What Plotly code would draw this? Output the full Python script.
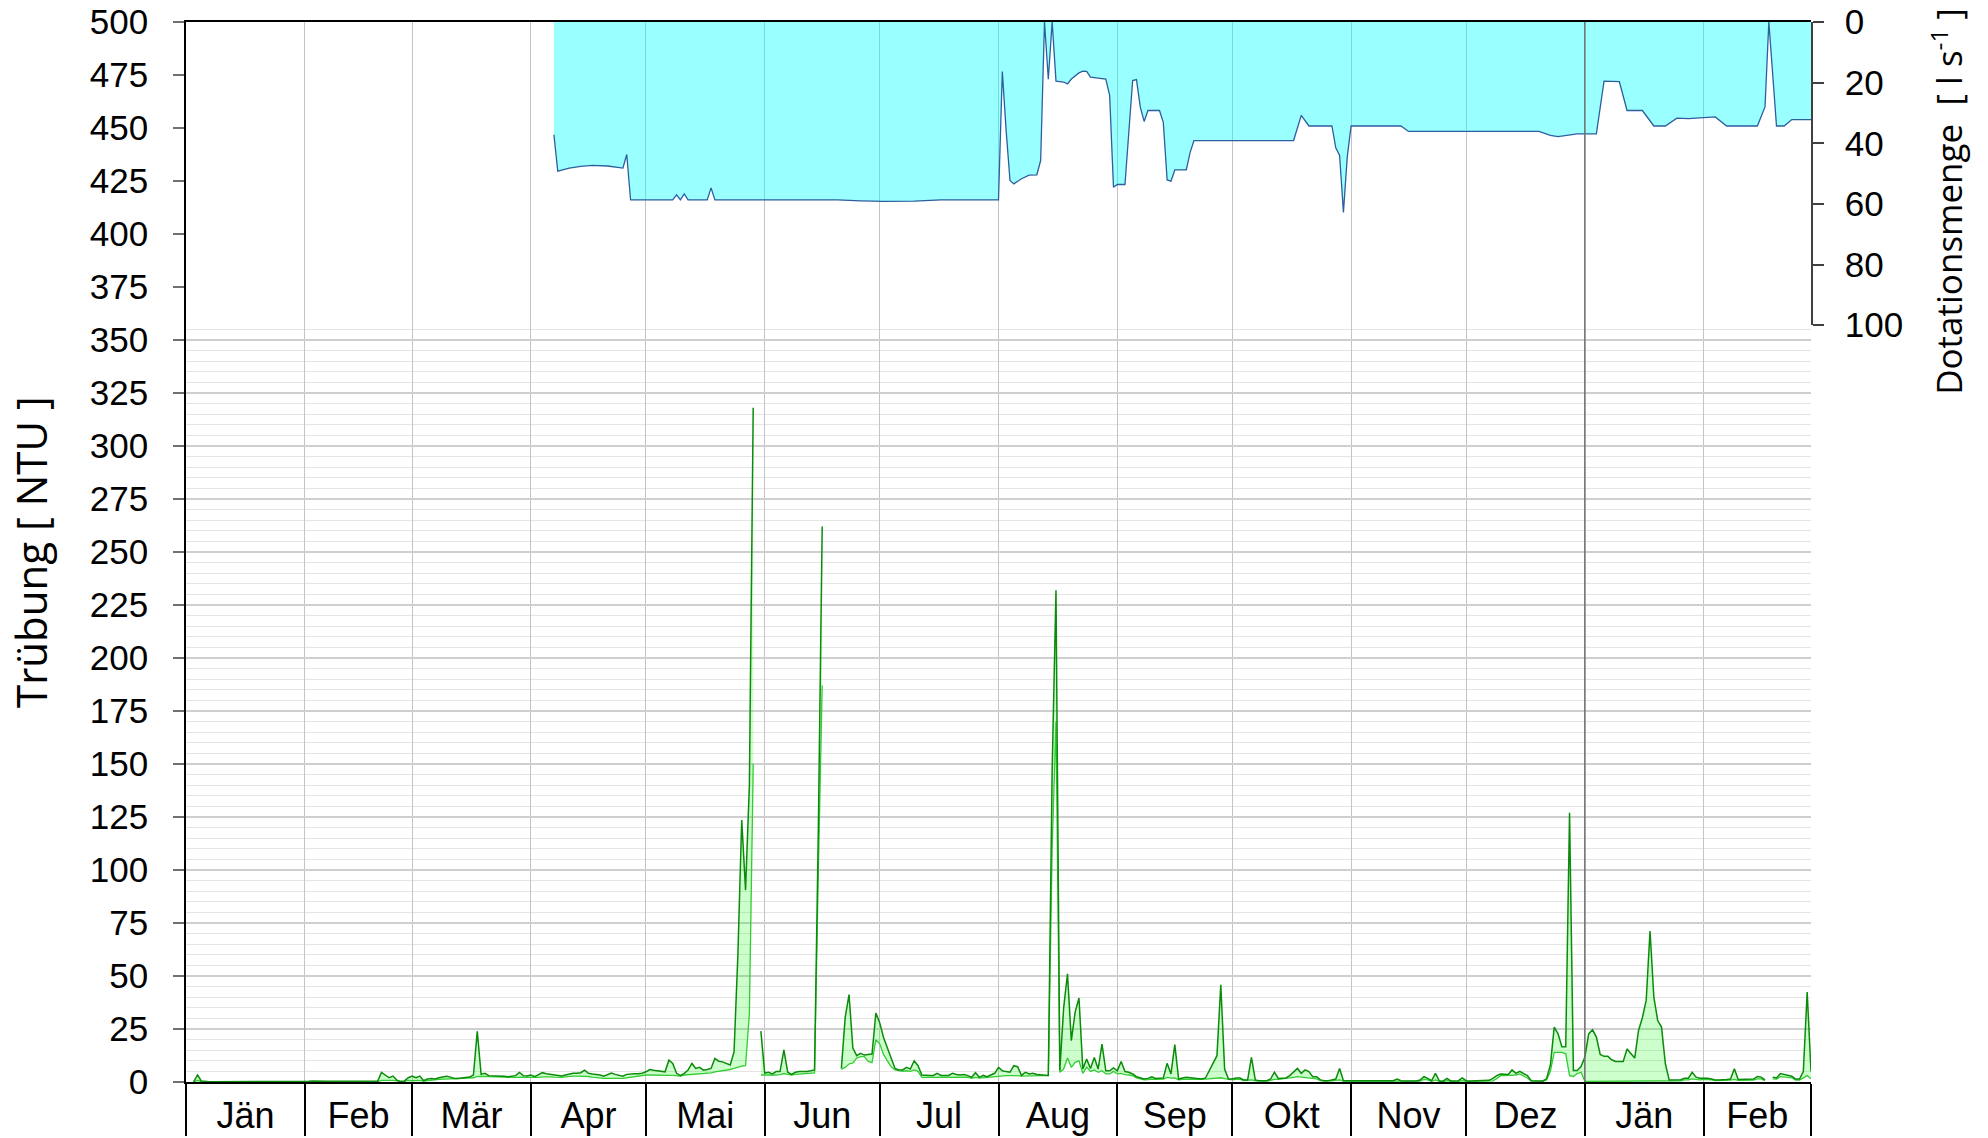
import datetime as dt
import plotly.graph_objects as go

START = dt.date(2021, 1, 1)

month_starts = ["2021-01-01", "2021-02-01", "2021-03-01", "2021-04-01", "2021-05-01",
                "2021-06-01", "2021-07-01", "2021-08-01", "2021-09-01", "2021-10-01",
                "2021-11-01", "2021-12-01", "2022-01-01", "2022-02-01", "2022-03-01"]
month_labels = ["Jän", "Feb", "Mär", "Apr", "Mai", "Jun", "Jul", "Aug", "Sep", "Okt",
                "Nov", "Dez", "Jän", "Feb"]
year_break = "2022-01-01"

ntu_ticks = list(range(0, 501, 25))
dot_ticks = [0, 20, 40, 60, 80, 100]

# ---- Trübung, daily maximum (NTU) ----
max_jan1 = [None, None, 0.1, 3.3, 0.5, 0.2, 0.1, 0.1, 0.1, 0.1, 0.1, 0.1, 0.1, 0.1, 0.1, 0.1,
            0.1, 0.1, 0.1, 0.1, 0.1, 0.1, 0.1, 0.1, 0.1, 0.1, 0.1, 0.1, 0.1, 0.1, 0.1]
max_feb1 = [0.3, 0.4, 0.5, 0.4, 0.3, 0.2, 0.3, 0.4, 0.5, 0.4, 0.3, 0.3, 0.4, 0.5, 0.3, 0.2,
            0.3, 0.4, 0.3, 0.3, 4.5, 3.3, 2.0, 2.8, 0.9, 0.3, 0.5, 2.0]
max_mar1 = [2.8, 2.0, 2.8, 0.6, 1.4, 1.7, 1.4, 2.0, 2.3, 2.7, 2.3, 1.7, 1.7, 2.0, 2.0, 2.3,
            3.3, 23.9, 3.6, 4.1, 3.0, 3.0, 2.8, 2.8, 2.7, 2.5, 2.7, 3.0, 4.5, 3.0, 2.8]
max_apr1 = [3.3, 2.5, 3.6, 4.4, 3.9, 3.6, 3.3, 3.1, 2.8, 3.3, 3.75, 4.1, 4.1, 4.4, 5.6, 4.1,
            3.75, 3.6, 3.3, 2.7, 3.3, 4.2, 3.6, 3.3, 2.7, 3.6, 3.9, 3.9, 3.9, 4.1]
max_may1 = [4.8, 5.9, 5.5, 5.3, 5.2, 4.8, 10.3, 8.75, 4.1, 3.0, 4.1, 5.6, 8.75, 6.4, 6.9, 5.6,
            5.9, 6.4, 11.1, 9.8, 9.5, 8.6, 8.0, 14.2, 60, 123.6, 90.5, 140, 318, None, 24.0]
max_jun1 = [4.2, 4.6, 3.8, 4.9, 4.9, 15.1, 4.6, 3.6, 4.6, 5.0, 4.9, 5.0, 5.3, 5.7, 120, 262,
            None, None, None, None, 6.4, 30.5, 41.2, 16.0, 12.4, 13.5, 12.7, 12.9, 13.2, 32.5]
max_jul1 = [28, 21, 16.4, 11.6, 6.4, 5.7, 5.7, 6.9, 6.1, 10, 7.7, 3.3, 3.1, 3.1, 3.1, 4.1,
            3.1, 3.0, 3.1, 4.1, 3.5, 3.3, 3.5, 3.0, 2.2, 4.4, 2.2, 3.1, 2.5, 3.3, 4.1]
max_aug1 = [6.9, 5.3, 4.9, 4.6, 7.7, 7.2, 3.1, 4.6, 3.8, 4.1, 3.5, 3.3, 3.1, 3.1, 147, 232,
            5.4, 35, 51, 19.5, 33, 39.6, 6.1, 10.8, 6.4, 11.6, 6.1, 17.9, 5.3, 5.3, 6.6]
max_sep1 = [5.3, 9.7, 4.9, 4.6, 3.8, 2.5, 1.9, 1.4, 1.7, 2.5, 1.7, 1.9, 1.9, 8.8, 3.8, 17.6,
            1.4, 1.9, 2.2, 2.0, 1.7, 1.4, 1.4, 1.9, 5.3, 9.3, 12.4, 45.8, 6.1, 1.4]
max_oct1 = [1.4, 1.9, 1.9, 1.0, 1.0, 11.6, 1.0, 0.6, 0.6, 0.6, 1.4, 4.6, 1.7, 1.9, 1.9, 3.0,
            4.6, 6.4, 4.1, 5.7, 4.9, 2.5, 2.5, 1.0, 0.6, 0.6, 1.0, 1.4, 6.4, 0.6, 0.6]
max_nov1 = [0.6, 0.5, 0.5, 0.5, 0.6, 0.5, 0.4, 0.5, 0.5, 0.4, 0.5, 0.6, 1.4, 0.6, 0.5, 0.5,
            0.4, 0.5, 0.9, 2.5, 1.7, 0.6, 4.1, 0.6, 0.4, 1.7, 0.5, 0.4, 0.6, 1.9]
max_dec1 = [0.6, 0.5, 0.5, 0.6, 0.6, 0.6, 0.8, 1.7, 3.0, 3.8, 3.5, 3.5, 5.7, 4.1, 5.0, 3.8,
            3.0, 0.6, 0.5, 0.5, 0.5, 1.5, 8.0, 25.9, 22.7, 16.6, 16.6, 127, 5.4, 5.4, 7.3]
max_jan2 = [11.8, 22.7, 24.6, 21.2, 13, 12.1, 12.1, 10.5, 9.7, 9.7, 9.7, 15.6, 13.3, 11.3,
            24.3, 30.3, 38.5, 71.2, 40, 29, 25.9, 8.6, 1.0, 1.0, 1.0, 1.1, 1.8, 1.8, 4.6, 2.3, 1.8]
max_feb2 = [1.8, 1.8, 1.4, 1.0, 1.0, 1.0, 1.2, 1.4, 6.3, 1.2, 1.2, 1.2, 1.2, 1.4, 2.6, 2.3,
            1.0, None, 2.3, 1.9, 4.0, 3.6, 3.1, 2.7, 1.4, 1.4, 4.9, 42.4]
max_mar2 = [5.0]

# ---- Trübung, daily mean (NTU) ----
mean_jan1 = [None, None, 0.0, 0.8, 0.2, 0.1, 0.1, 0.1, 0.1, 0.1, 0.1, 0.1, 0.1, 0.1, 0.1, 0.1,
             0.1, 0.1, 0.1, 0.1, 0.1, 0.1, 0.1, 0.1, 0.1, 0.1, 0.1, 0.1, 0.1, 0.1, 0.1]
mean_feb1 = [0.2, 0.2, 0.3, 0.2, 0.2, 0.1, 0.2, 0.2, 0.3, 0.2, 0.2, 0.2, 0.2, 0.3, 0.2, 0.1,
             0.2, 0.2, 0.2, 0.2, 0.8, 0.9, 0.8, 0.8, 0.5, 0.2, 0.3, 0.8]
mean_mar1 = [0.6, 0.8, 0.8, 0.4, 0.5, 0.8, 1.0, 1.2, 1.3, 1.4, 1.4, 1.4, 1.5, 1.6, 1.7, 1.8,
             2.0, 2.6, 2.7, 2.6, 2.5, 2.4, 2.3, 2.3, 2.2, 2.2, 2.2, 2.2, 2.4, 2.3, 2.2]
mean_apr1 = [2.2, 2.0, 2.2, 2.4, 2.5, 2.4, 2.3, 2.2, 2.2, 2.4, 2.7, 2.8, 2.8, 2.8, 2.8, 2.6,
             2.3, 2.0, 1.8, 1.7, 1.7, 1.8, 1.8, 1.7, 1.7, 2.0, 2.3, 2.6, 2.9, 3.1]
mean_may1 = [3.3, 3.3, 3.2, 3.1, 3.0, 3.0, 3.1, 3.1, 3.0, 2.8, 3.3, 3.4, 3.6, 3.7, 3.75, 3.8,
             4.0, 4.3, 4.8, 5.0, 5.2, 5.5, 5.9, 6.4, 7.0, 7.5, 7.7, 32, 150, None, 3.3]
mean_jun1 = [3.3, 3.1, 3.0, 3.3, 3.5, 4.0, 3.6, 3.3, 3.6, 3.8, 3.9, 4.0, 4.1, 4.3, 100, 187,
             None, None, None, None, 6.1, 6.9, 8.5, 9.0, 11.3, 12.0, 12.0, 9.7, 9.1, 20.0]
mean_jul1 = [18, 13, 10, 7.2, 5.7, 5.3, 5.0, 5.3, 5.0, 5.7, 5.0, 2.2, 2.2, 2.3, 2.3, 2.5,
             2.5, 2.4, 2.4, 2.5, 2.5, 2.4, 2.4, 2.3, 1.7, 2.2, 1.8, 2.0, 2.0, 2.5, 2.6]
mean_aug1 = [2.8, 3.0, 3.0, 3.0, 3.1, 3.0, 2.8, 2.9, 3.0, 3.0, 3.0, 3.0, 3.0, 3.0, 110, 170,
             4.6, 6.1, 11.3, 6.9, 9.3, 10.0, 4.1, 7.0, 5.0, 5.7, 4.6, 5.3, 3.8, 3.8, 5.0]
mean_sep1 = [3.8, 4.1, 3.5, 3.3, 3.0, 1.9, 1.4, 1.0, 1.1, 1.4, 1.2, 1.3, 1.4, 2.2, 1.8, 1.9,
             1.0, 1.2, 1.4, 1.4, 1.3, 1.2, 1.2, 1.4, 1.6, 1.9, 2.0, 2.0, 1.6, 1.2]
mean_oct1 = [1.0, 1.2, 1.2, 0.7, 0.7, 1.0, 0.6, 0.4, 0.4, 0.4, 0.8, 1.2, 1.2, 1.4, 1.4, 1.9,
             2.2, 2.5, 2.3, 2.2, 2.0, 1.7, 1.5, 0.7, 0.4, 0.4, 0.6, 0.8, 1.0, 0.4, 0.4]
mean_nov1 = [0.3, 0.3, 0.3, 0.3, 0.3, 0.3, 0.2, 0.3, 0.3, 0.2, 0.3, 0.3, 0.5, 0.3, 0.3, 0.3,
             0.2, 0.3, 0.4, 1.2, 1.0, 0.3, 1.0, 0.3, 0.2, 0.6, 0.3, 0.2, 0.3, 0.6]
mean_dec1 = [0.3, 0.3, 0.3, 0.3, 0.3, 0.3, 0.3, 0.5, 1.5, 3.0, 3.0, 3.0, 3.3, 3.3, 3.8, 3.0,
             1.9, 0.4, 0.3, 0.3, 0.3, 1.0, 5.0, 14, 14, 14, 13.3, 3.0, 2.6, 4.0, 4.6]
mean_jan2 = [0.3, 0.3, 0.3, 0.3, 0.3, 0.3, 0.3, 0.3, 0.3, 0.3, 0.3, 0.3, 0.3, 0.3, 0.3, 0.3,
             0.3, 0.3, 0.3, 0.3, 0.3, 0.3, 0.5, 0.5, 0.5, 0.6, 1.0, 1.0, 1.5, 1.2, 1.0]
mean_feb2 = [1.2, 1.2, 1.0, 0.7, 0.7, 0.7, 0.8, 0.9, 1.2, 0.8, 0.8, 0.8, 0.8, 0.9, 1.5, 1.5,
             0.6, None, 1.5, 1.4, 2.5, 2.5, 2.2, 2.0, 0.9, 0.9, 2.0, 3.0]
mean_mar2 = [1.5]

# ---- Dotationsmenge (l/s), day offset from 1 Jan 2021 ----
dot_day = [96, 97, 100, 103, 106, 110, 114, 115, 116, 127,
           128, 129, 130, 131, 136, 137, 138, 170, 176, 182,
           190, 197, 212, 213, 214, 215, 216, 218, 220, 222,
           223, 224, 225, 226, 227, 229, 230, 231, 233, 234,
           235, 236, 238, 240, 241, 242, 243, 245, 247, 248,
           249, 250, 251, 254, 255, 256, 257, 258, 261, 262,
           263, 289, 291, 293, 299, 300, 301, 302, 303, 304,
           317, 319, 353, 356, 358, 360, 363, 368, 370, 374,
           376, 380, 383, 386, 389, 392, 399, 402, 410, 412,
           413, 415, 416, 417, 419, 424]
dot_val = [37.2, 49.2, 48.2, 47.6, 47.3, 47.5, 48.2, 43.7, 58.7, 58.7,
           57.0, 58.7, 56.7, 58.7, 58.7, 54.7, 58.7, 58.7, 59.0, 59.2,
           59.1, 58.7, 58.7, 16.3, 36.0, 52.3, 53.4, 51.7, 50.5, 50.4,
           45.7, 0.0, 18.9, 0.0, 19.5, 19.8, 20.4, 18.8, 16.8, 16.2,
           16.3, 18.2, 18.5, 18.8, 24.2, 54.5, 53.6, 53.6, 19.3, 19.0,
           28.1, 32.8, 29.2, 29.2, 33.1, 52.1, 52.5, 48.8, 48.8, 43.0,
           39.1, 39.1, 30.8, 34.3, 34.3, 41.5, 44.0, 62.8, 44.5, 34.3,
           34.3, 36.1, 36.1, 37.4, 37.8, 37.4, 36.9, 36.9, 19.5, 19.7,
           29.2, 29.2, 34.3, 34.3, 31.7, 31.9, 31.3, 34.3, 34.3, 28.0,
           0.0, 34.3, 34.3, 34.3, 32.2, 32.2]

ntu_max = (max_jan1 + max_feb1 + max_mar1 + max_apr1 + max_may1 + max_jun1 + max_jul1 +
           max_aug1 + max_sep1 + max_oct1 + max_nov1 + max_dec1 + max_jan2 + max_feb2 + max_mar2)
ntu_mean = (mean_jan1 + mean_feb1 + mean_mar1 + mean_apr1 + mean_may1 + mean_jun1 + mean_jul1 +
            mean_aug1 + mean_sep1 + mean_oct1 + mean_nov1 + mean_dec1 + mean_jan2 + mean_feb2 +
            mean_mar2)
assert len(ntu_max) == len(ntu_mean)

days = [START + dt.timedelta(days=i) for i in range(len(ntu_max))]
dot_x = [START + dt.timedelta(days=d) for d in dot_day]

MAX_COL = "#0a8c0a"
MEAN_COL = "#33cc33"
FILL_COL = "rgba(0,255,0,0.2)"

fig = go.Figure()

# band fill between mean and max, per contiguous segment
seg = []
segments = []
for x, a, b in zip(days, ntu_max, ntu_mean):
    if a is None or b is None:
        if seg:
            segments.append(seg)
        seg = []
    else:
        seg.append((x, a, b))
if seg:
    segments.append(seg)
for s in segments:
    xs = [p[0] for p in s]
    fig.add_trace(go.Scatter(
        x=xs + xs[::-1], y=[p[1] for p in s] + [p[2] for p in s][::-1],
        fill="toself", fillcolor=FILL_COL, line=dict(width=0), mode="lines",
        hoverinfo="skip", showlegend=False))

fig.add_trace(go.Scatter(x=days, y=ntu_mean, mode="lines", connectgaps=False,
                         line=dict(color=MEAN_COL, width=1.3), showlegend=False))
fig.add_trace(go.Scatter(x=days, y=ntu_max, mode="lines", connectgaps=False,
                         line=dict(color=MAX_COL, width=1.5), showlegend=False))

fig.add_trace(go.Scatter(x=dot_x, y=dot_val, mode="lines", yaxis="y2",
                         fill="tozeroy", fillcolor="rgba(0,255,255,0.4)",
                         line=dict(color="#2d5e9e", width=1.3), showlegend=False))

# invisible trace carrying the month label axis
mids = []
for a, b in zip(month_starts[:-1], month_starts[1:]):
    da = dt.date.fromisoformat(a)
    db = dt.date.fromisoformat(b)
    mids.append(dt.datetime.combine(da, dt.time()) + (db - da) / 2)
fig.add_trace(go.Scatter(x=mids, y=[None] * len(mids), xaxis="x2", mode="lines",
                         showlegend=False, hoverinfo="skip"))

TICK_FONT = dict(family="Liberation Sans, Arial, sans-serif", size=35, color="black")
MONTH_FONT = dict(family="Liberation Sans, Arial, sans-serif", size=36, color="black")
xrange = [month_starts[0], month_starts[-1]]

fig.update_layout(
    width=1988, height=1138,
    margin=dict(l=186, r=177, t=22, b=56, autoexpand=False),
    paper_bgcolor="white", plot_bgcolor="white",
    xaxis=dict(type="date", range=xrange, tickmode="array", tickvals=month_starts,
               showticklabels=False, ticks="outside", ticklen=52, tickwidth=1.5,
               tickcolor="black", showgrid=True, gridcolor="#c4c4c4", gridwidth=1,
               showline=True, linecolor="black", linewidth=2, mirror=True,
               zeroline=False, automargin=False),
    xaxis2=dict(type="date", range=xrange, overlaying="x", anchor="y", side="bottom",
                tickmode="array", tickvals=mids, ticktext=month_labels, ticks="",
                showgrid=False, showline=False, zeroline=False, tickfont=MONTH_FONT,
                ticklabelstandoff=9, automargin=False, ticklabeloverflow="allow"),
    yaxis=dict(range=[0, 500], tickmode="array", tickvals=ntu_ticks, ticks="outside",
               ticklen=11, tickwidth=2, tickcolor="#707070", tickfont=TICK_FONT,
               ticklabelstandoff=18, automargin=False, ticklabeloverflow="allow",
               showgrid=True, gridcolor="#cfcfcf", gridwidth=1.5,
               minor=dict(dtick=5, tick0=0, showgrid=True, gridcolor="#e4e4e4",
                          gridwidth=1, ticks=""),
               showline=True, linecolor="black", linewidth=1.5, zeroline=False),
    yaxis2=dict(domain=[0.714, 1], range=[100, 0], anchor="x", side="right",
                tickmode="array", tickvals=dot_ticks, ticks="outside",
                ticklen=11, tickwidth=1.5, tickcolor="#404040", tickfont=TICK_FONT,
                ticklabelstandoff=14, automargin=False, ticklabeloverflow="allow",
                showgrid=False, showline=True, linecolor="#404040", linewidth=1.5,
                zeroline=False),
    shapes=[dict(type="line", xref="x", yref="paper", x0=year_break, x1=year_break,
                 y0=0, y1=1, line=dict(color="#6e6e6e", width=1.5), layer="above")],
    annotations=[
        dict(text="Trübung [ NTU ]", xref="paper", yref="paper", x=-0.096, y=0.5,
             xanchor="center", yanchor="middle", textangle=-90, showarrow=False,
             font=dict(family="Open Sans, Noto Sans, sans-serif", size=42, color="black")),
        dict(text="Dotationsmenge  [ l s<sup>-1</sup> ]", xref="paper", yref="paper",
             x=1.0835, y=0.831, xanchor="center", yanchor="middle", textangle=-90,
             showarrow=False,
             font=dict(family="Open Sans, Noto Sans, sans-serif", size=35, color="black")),
    ],
)

fig.write_html("out.html", config={"displayModeBar": False},
               post_script="document.body.style.margin = '0px';")
